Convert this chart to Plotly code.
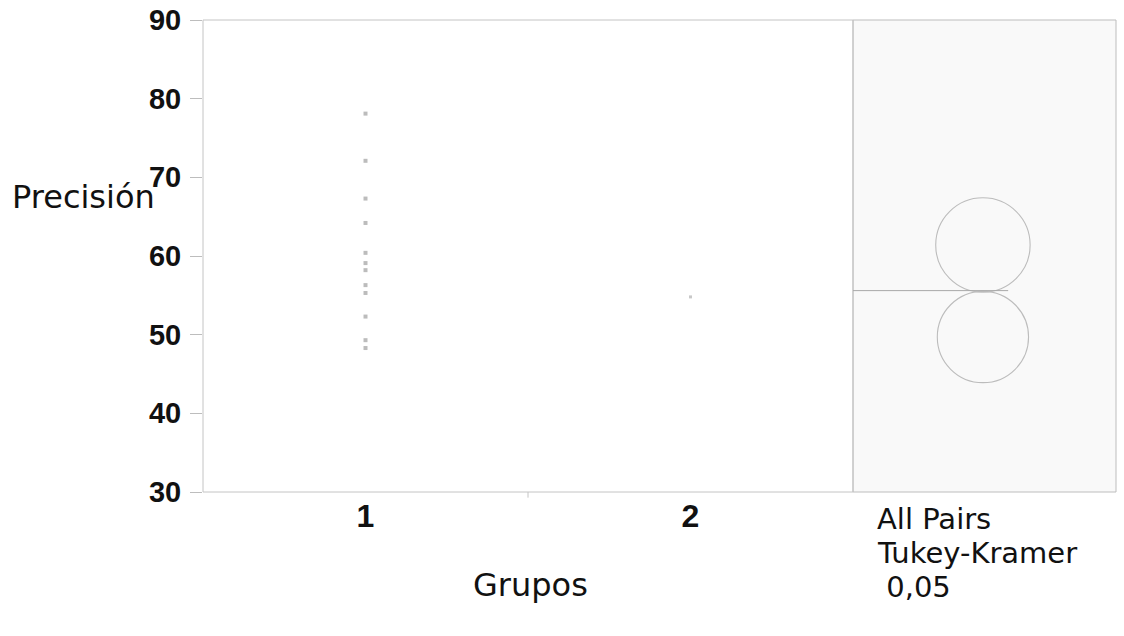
import plotly.graph_objects as go

# ---- data ----
categories = ["1", "2"]
group1_values = [78.1, 72.1, 67.3, 64.2, 60.4, 59.1, 58.2, 56.3, 55.3, 52.3, 49.3, 48.3]
group2_values = [54.8]
group_means = [61.4, 49.7]
circle_radii = [6.0, 5.8]
grand_mean = 55.6
y_ticks = [30, 40, 50, 60, 70, 80, 90]

W, H = 1124, 636
# layout geometry (pixels)
left_px, mid_px, right_px = 203, 853, 1116
top_px, bot_px = 20, 492
y_range = [30, 90]
x2_range = [0, 1]
circle_x = 0.494  # centre of comparison circles in right panel (x2 units)

xd1 = [left_px / W, mid_px / W]
xd2 = [mid_px / W, right_px / W]
yd = [(H - bot_px) / H, (H - top_px) / H]

px_per_y = (bot_px - top_px) / (y_range[1] - y_range[0])
px_per_x2 = (right_px - mid_px) / (x2_range[1] - x2_range[0])

fig = go.Figure()

fig.add_trace(go.Scatter(
    x=[0] * len(group1_values), y=group1_values, mode="markers",
    marker=dict(symbol="square", size=4, color="#bcbcbc"),
    xaxis="x", yaxis="y", showlegend=False, hoverinfo="y"))
fig.add_trace(go.Scatter(
    x=[1] * len(group2_values), y=group2_values, mode="markers",
    marker=dict(symbol="square", size=3, color="#c8c8c8"),
    xaxis="x", yaxis="y", showlegend=False, hoverinfo="y"))

shapes = []
# right panel background & frame
shapes.append(dict(type="rect", xref="x2 domain", yref="y domain", x0=0, x1=1, y0=0, y1=1,
                   fillcolor="#f9f9f9", line=dict(color="#bdbdbd", width=1), layer="below"))
# main panel frame
shapes.append(dict(type="rect", xref="x domain", yref="y domain", x0=0, x1=1, y0=0, y1=1,
                   fillcolor="rgba(0,0,0,0)", line=dict(color="#c4c4c4", width=1), layer="above"))
# comparison circles
for m, r in zip(group_means, circle_radii):
    rx = r * px_per_y / px_per_x2
    shapes.append(dict(type="circle", xref="x2", yref="y",
                       x0=circle_x - rx, x1=circle_x + rx, y0=m - r, y1=m + r,
                       line=dict(color="#bcbcbc", width=1.1)))
# grand mean line
shapes.append(dict(type="line", xref="x2", yref="y", x0=0, x1=0.59, y0=grand_mean, y1=grand_mean,
                   line=dict(color="#a8a8a8", width=1)))
# boundary tick between categories
shapes.append(dict(type="line", xref="x", yref="y domain", x0=0.5, x1=0.5, y0=0, y1=-0.012,
                   line=dict(color="#c4c4c4", width=1)))

lab_font = "DejaVu Sans"
lab_col = "#111"
annotations = [
    dict(text="Precisión", x=10 / W, y=1 - 197 / H, xref="paper", yref="paper",
         xanchor="left", yanchor="middle", showarrow=False,
         font=dict(family=lab_font, size=32, color=lab_col)),
    dict(text="Grupos", x=530 / W, y=1 - 585 / H, xref="paper", yref="paper",
         xanchor="center", yanchor="middle", showarrow=False,
         font=dict(family=lab_font, size=32, color=lab_col)),
    dict(text="All Pairs", x=875 / W, y=1 - 519 / H, xref="paper", yref="paper",
         xanchor="left", yanchor="middle", showarrow=False,
         font=dict(family=lab_font, size=29, color=lab_col)),
    dict(text="Tukey-Kramer", x=875 / W, y=1 - 553 / H, xref="paper", yref="paper",
         xanchor="left", yanchor="middle", showarrow=False,
         font=dict(family=lab_font, size=29, color=lab_col)),
    dict(text=" 0,05", x=875 / W, y=1 - 587 / H, xref="paper", yref="paper",
         xanchor="left", yanchor="middle", showarrow=False,
         font=dict(family=lab_font, size=29, color=lab_col)),
]

fig.update_layout(
    width=W, height=H, autosize=False,
    margin=dict(l=0, r=0, t=0, b=0, pad=0),
    paper_bgcolor="white", plot_bgcolor="white",
    showlegend=False,
    xaxis=dict(domain=xd1, range=[-0.5, 1.5], anchor="y", automargin=False,
               tickmode="array", tickvals=[0, 1], ticktext=categories,
               ticks="", showgrid=False, zeroline=False, showline=False,
               ticklabelstandoff=2,
               tickfont=dict(family="Liberation Sans", size=32, color=lab_col, weight="bold")),
    xaxis2=dict(domain=xd2, range=x2_range, anchor="y", showticklabels=False, automargin=False,
                ticks="", showgrid=False, zeroline=False, showline=False),
    yaxis=dict(domain=yd, range=y_range, anchor="x", automargin=False,
               tickmode="array", tickvals=y_ticks, ticktext=[str(v) for v in y_ticks],
               ticks="outside", ticklen=12, tickcolor="#bdbdbd", tickwidth=1,
               ticklabelstandoff=3,
               showgrid=False, zeroline=False, showline=False,
               tickfont=dict(family="Liberation Sans", size=29, color=lab_col, weight="bold")),
    shapes=shapes,
    annotations=annotations,
)

fig.write_html("out.html")
